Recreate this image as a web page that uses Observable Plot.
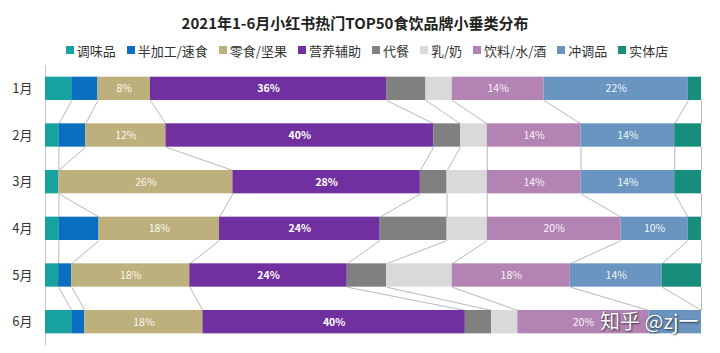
<!DOCTYPE html>
<html>
<head>
<meta charset="utf-8">
<script src="https://cdn.jsdelivr.net/npm/d3@7"></script>
<script src="https://cdn.jsdelivr.net/npm/@observablehq/plot@0.6"></script>
<style>
  html, body { margin: 0; padding: 0; background: #fff; }
  body { width: 720px; height: 353px; position: relative; overflow: hidden;
         font-family: "Noto Sans CJK SC", "Noto Sans", sans-serif; }
  #title { height: 38px; line-height: 46px; text-align: center; font-size: 15px; font-weight: bold;
           color: #222; padding-right: 10px; box-sizing: border-box; }
  #legend { height: 24px; display: flex; justify-content: center; align-items: center; gap: 11px;
            font-size: 13px; color: #333; padding-left: 14px; box-sizing: border-box; }
  .item { display: flex; align-items: center; white-space: nowrap; }
  .sw { width: 8px; height: 8px; margin-right: 3px; display: inline-block; }
  #wm { position: absolute; left: 600px; top: 306px; font-size: 20px; color: #fff;
        text-shadow: 1px 1px 2px rgba(0,0,0,0.6), 0 0 1px rgba(0,0,0,0.5); white-space: nowrap; }
</style>
</head>
<body>
<div id="title">2021年1-6月小红书热门TOP50食饮品牌小垂类分布</div>
<div id="legend"></div>
<div id="chart"></div>
<div id="wm">知乎 @zj一</div>
<script>
// ---- data ----
const months = ["1月", "2月", "3月", "4月", "5月", "6月"];
const categories = ["调味品", "半加工/速食", "零食/坚果", "营养辅助", "代餐", "乳/奶", "饮料/水/酒", "冲调品", "实体店"];
const colors = ["#17a2a0", "#0b6fc0", "#bdb07c", "#7030a0", "#808080", "#d9d9d9", "#b383b3", "#6a95c0", "#168e7b"];
// percentage share per month (1月..6月)
const seasoning   = [4, 2.04, 2.04, 2.04, 2, 4];
const semiFood    = [4, 4.08, 0, 6.12, 2, 2];
const snacks      = [8, 12.24, 26.53, 18.37, 18, 18];
const nutrition   = [36, 40.82, 28.57, 24.49, 24, 40];
const mealReplace = [6, 4.08, 4.08, 10.2, 6, 4];
const dairy       = [4, 4.08, 6.12, 6.12, 10, 4];
const drinks      = [14, 14.29, 14.29, 20.41, 18, 20];
const brewing     = [22, 14.29, 14.29, 10.2, 14, 8];
const stores      = [2, 4.08, 4.08, 2.04, 6, 0];
const labeled = ["零食/坚果", "营养辅助", "饮料/水/酒", "冲调品"];
// the 6月 冲调品 label is hidden under the watermark in the reference
const hiddenLabels = [{month: "6月", cat: "冲调品"}];

const series = [seasoning, semiFood, snacks, nutrition, mealReplace, dairy, drinks, brewing, stores];

// ---- legend ----
const lg = document.getElementById("legend");
categories.forEach((c, k) => {
  const it = document.createElement("div");
  it.className = "item";
  it.innerHTML = `<span class="sw" style="background:${colors[k]}"></span>${c}`;
  lg.appendChild(it);
});

// ---- derived tables ----
const segs = [];
const cums = [];
months.forEach((m, i) => {
  let c = 0;
  const cum = [0];
  categories.forEach((cat, k) => {
    const v = series[k][i];
    segs.push({i, month: m, cat, v, x1: c, x2: c + v});
    c += v;
    cum.push(c);
  });
  cums.push(cum);
});
const links = [];
for (let i = 0; i < months.length - 1; i++) {
  for (let k = 1; k < cums[i].length; k++) {
    links.push({x1: cums[i][k], y1: i + 0.25, x2: cums[i + 1][k], y2: i + 1 - 0.25});
  }
}
const labs = segs
  .filter(d => labeled.includes(d.cat) && d.v > 0)
  .filter(d => !hiddenLabels.some(h => h.month === d.month && h.cat === d.cat))
  .map(d => ({...d, xm: (d.x1 + d.x2) / 2, t: Math.floor(d.v + 1e-6) + "%"}));

const chart = Plot.plot({
  width: 720,
  height: 291,
  marginTop: 3,
  marginBottom: 8,
  marginLeft: 45,
  marginRight: 19,
  style: {fontFamily: "'Noto Sans CJK SC', 'Noto Sans', sans-serif", background: "#fff"},
  x: {domain: [0, 100], axis: null},
  y: {domain: [-0.5, months.length - 0.5], reverse: true, axis: null},
  color: {domain: categories, range: colors},
  marks: [
    Plot.ruleX([0], {y1: -0.5, y2: months.length - 0.5, stroke: "#c8c8c8", strokeWidth: 1}),
    Plot.link(links, {x1: "x1", y1: "y1", x2: "x2", y2: "y2", stroke: "#a6a6a6", strokeWidth: 0.8}),
    Plot.rect(segs, {x1: "x1", x2: "x2", y1: d => d.i - 0.25, y2: d => d.i + 0.25, fill: "cat"}),
    Plot.text(labs.filter(d => d.cat !== "营养辅助"), {x: "xm", y: "i", text: "t", fill: "#fff", fontSize: 10.5, fillOpacity: 0.95}),
    Plot.text(labs.filter(d => d.cat === "营养辅助"), {x: "xm", y: "i", text: "t", fill: "#fff", fontSize: 10.5, fontWeight: "bold"}),
    Plot.axisY({ticks: d3.range(months.length), tickFormat: i => months[i], tickSize: 0, tickPadding: 13, fontSize: 13, color: "#333"})
  ]
});
document.getElementById("chart").appendChild(chart);
</script>
</body>
</html>
